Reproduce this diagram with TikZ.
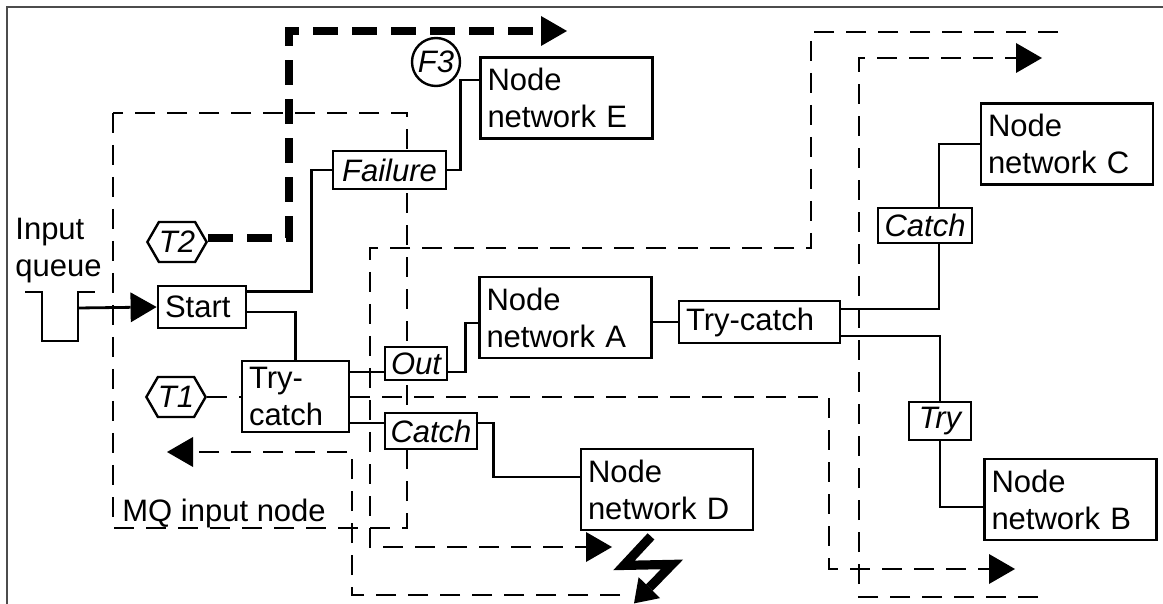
\documentclass[tikz,border=0pt]{standalone}
\usepackage{fontspec}
\setmainfont{Liberation Sans}
\usepackage{tikz}
\usetikzlibrary{shapes.geometric, shapes.symbols, arrows.meta}

\newcommand{\diagfont}{\fontsize{15.5pt}{18.5pt}\selectfont}

\tikzstyle{netbox} = [rectangle, draw=black, fill=white, line width=1.4pt, align=left, inner xsep=3.5pt, inner ysep=0pt, text width=79pt, minimum height=40.5pt]
\tikzstyle{tagbox} = [rectangle, draw=black, fill=white, line width=1.4pt, inner sep=0pt, font=\diagfont\itshape]
\tikzstyle{timer} = [signal, signal to=west and east, signal pointer angle=120, draw=black, fill=white, line width=1.2pt, minimum width=25pt, minimum height=20pt, inner sep=0pt, font=\diagfont\itshape]
\tikzstyle{failpoint} = [circle, draw=black, fill=white, line width=1.2pt, minimum size=24pt, inner sep=0pt, font=\diagfont\itshape]
\tikzstyle{wire} = [line width=1.4pt]
\tikzstyle{flow} = [line width=1.4pt, dash pattern=on 10pt off 6pt]
\tikzstyle{thickflow} = [line width=3.6pt, dash pattern=on 12.5pt off 7pt]
\tikzstyle{arrow} = [-{Triangle[length=13pt,width=15pt,line width=0pt]}]
\tikzstyle{bolt} = [line width=4.6pt, line join=miter, -{Triangle[length=11pt,width=15pt,line width=0pt]}]

\begin{document}
\begin{tikzpicture}[x=0.5pt, y=-0.5pt, font=\diagfont]
  \useasboundingbox (0,0) rectangle (1163,604);
  \draw[line width=1pt, black!70] (7,604) -- (7,7) -- (1163,7);

  % MQ input node
  \draw[flow] (113,113) rectangle (407,528);
  \node (mq label) [anchor=base west, inner sep=0pt] at (122,522) {MQ input node};

  % input queue
  \node (in queue) [anchor=north west, inner sep=0pt, align=left] at (15,218) {Input\\queue};
  \draw[wire] (25,292) -- (42,292) -- (42,341) -- (78,341) -- (78,292) -- (95,292);
  \coordinate (queue out) at (78,308);

  % free ends of the flows
  \coordinate (flow A start) at (1058,32);
  \coordinate (flow A end) at (612,547);
  \coordinate (flow B start) at (1038,597);
  \coordinate (flow B end) at (1042,58);
  \coordinate (flow C end) at (1015,569);
  \coordinate (flow D start) at (620,595);
  \coordinate (flow D end) at (167,452);
  \coordinate (fail end) at (567,31);

  \draw[flow, arrow] (flow A start) -| (811,248) -- (370,248) |- (flow A end);
  \draw[flow, arrow] (flow B start) -| (859,58) -- (flow B end);
  \draw[flow, arrow] (flow D start) -| (352,452) -- (flow D end);

  \node (start) [netbox, text width=37pt, minimum height=21pt] at (202,307) {Start};
  \node (try catch L) [netbox, text width=46.5pt, minimum height=35.5pt] at (295.5,396.5) {Try-\\catch};
  \node (failure) [tagbox, minimum width=56.5pt, minimum height=19pt] at (389.5,170) {Failure};
  \node (out) [tagbox, minimum width=31pt, minimum height=16.5pt] at (416,363.5) {Out};
  \node (catch L) [tagbox, minimum width=46pt, minimum height=18pt] at (431,431) {Catch};
  \node (net E) [netbox] at (566.5,98) {Node\\network E};
  \node (net A) [netbox] at (565.5,317.5) {Node\\network A};
  \node (net D) [netbox] at (667,489.5) {Node\\network D};
  \node (try catch R) [netbox, text width=73.5pt, minimum height=21pt] at (759.5,322) {Try-catch};
  \node (catch R) [tagbox, minimum width=47pt, minimum height=17.5pt] at (925,225.5) {Catch};
  \node (try R) [tagbox, minimum width=31pt, minimum height=19pt] at (940,421) {Try};
  \node (net C) [netbox] at (1067,144) {Node\\network C};
  \node (net B) [netbox] at (1070.5,499.5) {Node\\network B};
  \node (T2) [timer] at (177,242) {T2};
  \node (T1) [timer] at (176,397) {T1};
  \node (F3) [failpoint] at (436,62) {F3};

  \draw[wire, arrow] (queue out) -- (start.west);
  \draw[wire] ([yshift=-3.5pt]start.north east) -| ([xshift=-10pt]failure.west) -- (failure.west);
  \draw[wire] (failure.east) -- ++(6.5pt,0) |- ([yshift=9pt]net E.west);
  \draw[wire] ([yshift=-2.5pt]start.east) -| (try catch L.north);

  \coordinate (to out) at ([yshift=12.25pt]try catch L.east);
  \draw[wire] (to out) -- (to out -| out.west);
  \draw[wire] (to out -| out.east) -- ++(8.5pt,0) |- ([yshift=-2.75pt]net A.west);
  \coordinate (to catch) at ([yshift=-13.25pt]try catch L.east);
  \draw[wire] (to catch) -- (to catch -| catch L.west);
  \draw[wire] (to catch -| catch L.east) -- ++(7.5pt,0) |- ([yshift=6.25pt]net D.west);

  \draw[wire] (net A.east |- try catch R.west) -- (try catch R.west);
  \draw[wire] ([yshift=6.5pt]try catch R.east) -| ([xshift=7pt]catch R.south);
  \draw[wire] ([xshift=7pt]catch R.north) |- (net C.west);
  \draw[wire] ([yshift=-7pt]try catch R.east) -| (try R.north);
  \draw[wire] (try R.south) |- ([yshift=-3.75pt]net B.west);

  % timer and failure flows
  \draw[flow] (T1.east) -- (T1.east -| try catch L.west);
  \draw[flow, arrow] (T1.east -| try catch L.east) -| ([xshift=-93pt]flow C end) -- (flow C end);
  \draw[thickflow, arrow] ([yshift=2pt]T2.east) -| (289,31) -- (fail end);

  \draw[bolt] ([xshift=-8pt]net D.south) ++(0,5) -- ++(-27,29) -- ++(48,-1) -- ++(-38,39);
\end{tikzpicture}
\end{document}
